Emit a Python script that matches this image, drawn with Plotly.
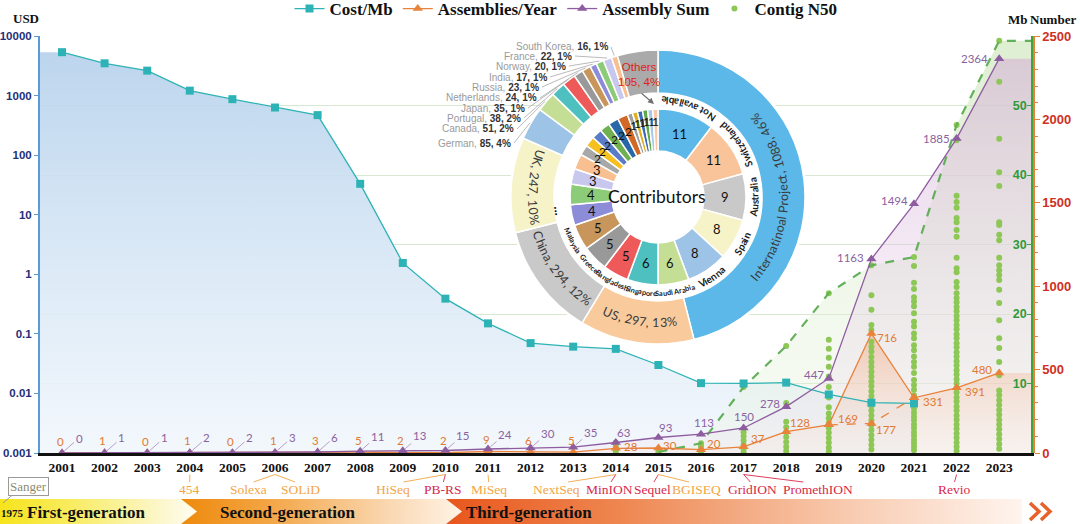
import math
import base64
import plotly.graph_objects as go

# ---------------------------------------------------------------- data
years = list(range(2001, 2024))
cost_years = list(range(2001, 2022))
cost_per_mb = [5350, 3480, 2620, 1210, 870, 630, 470, 33, 1.55, 0.39, 0.15,
               0.070, 0.061, 0.056, 0.030, 0.0149, 0.0147, 0.0152, 0.0096,
               0.0070, 0.0068]
assemblies_per_year = [0, 1, 0, 1, 0, 1, 3, 5, 2, 2, 9, 6, 5, 28, 30, 20, 37,
                       128, 169, 716, 331, 391, 480]
assembly_sum = [0, 1, 1, 2, 2, 3, 6, 11, 13, 15, 24, 30, 35, 63, 93, 113, 150,
                278, 447, 1163, 1494, 1885, 2364]
alt_years = [2019, 2020, 2021]
alt_assemblies = [169, 177, 331]

n50_max_years = list(range(2015, 2024))
n50_max = [0.15, 1.4, 9.5, 15.4, 23.0, 27.0, 28.2, 47.2, 59.3]

n50_2014 = [0.2, 0.6, 1.0, 1.5]
n50_2015 = [0.15]
n50_2016 = [0.2, 0.6, 1.0, 1.4]
n50_2017 = [0.1, 0.6, 1.2, 1.8, 2.4, 3.0, 9.5]
n50_2018 = [0.3, 0.9, 1.6, 2.3, 3.0, 3.7, 4.5, 7.2, 15.4]
n50_2019 = [0.2, 0.8, 1.5, 2.2, 2.9, 3.6, 4.3, 5.0, 5.7, 6.6, 8.0, 9.5, 11.0,
            12.4, 13.7, 15.0, 16.3, 23.0]
n50_2020 = [0.5, 1.2, 1.9, 2.6, 3.3, 4.0, 4.7, 5.4, 6.1, 6.8, 7.5, 8.2, 8.9,
            9.6, 10.3, 11.0, 11.7, 12.4, 13.1, 13.8, 14.6, 15.3, 16.0, 17.7,
            18.4, 20.6, 22.7, 27.0]
n50_2021 = [0.4, 0.9, 1.4, 1.9, 2.5, 3.0, 3.6, 4.1, 4.7, 5.2, 5.8, 6.4, 7.0,
            7.6, 8.3, 9.1, 9.8, 10.5, 11.5, 12.4, 13.1, 13.9, 14.8, 15.5, 16.5,
            17.2, 18.2, 18.9, 20.1, 21.1, 21.8, 22.4, 23.6, 24.5, 26.9, 28.2]
n50_2022 = [0.3, 0.9, 1.5, 2.2, 2.8, 3.5, 4.1, 4.8, 5.4, 6.1, 6.7, 7.4, 8.0,
            8.7, 9.3, 10.0, 10.6, 11.3, 11.9, 12.6, 13.2, 13.9, 14.5, 15.2,
            15.8, 16.5, 17.1, 17.8, 18.4, 19.1, 19.7, 20.4, 21.0, 21.7, 22.3,
            23.0, 23.9, 24.6, 26.0, 26.6, 28.1, 31.1, 32.1, 33.2, 33.8, 35.3,
            36.1, 37.0, 45.0, 47.2]
n50_2023 = [0.6, 1.3, 2.0, 2.7, 3.4, 4.1, 4.8, 5.5, 6.2, 6.9, 7.6, 8.3, 9.0,
            11.2, 13.1, 15.1, 16.5, 19.1, 21.6, 23.5, 24.9, 25.6, 26.3, 27.0,
            28.1, 30.6, 31.4, 32.8, 33.2, 38.4, 40.4, 45.2, 53.4, 59.3]
n50_by_year = {2014: n50_2014, 2015: n50_2015, 2016: n50_2016, 2017: n50_2017,
               2018: n50_2018, 2019: n50_2019, 2020: n50_2020, 2021: n50_2021,
               2022: n50_2022, 2023: n50_2023}

outer_labels = ["Internatinoal Project", "US", "China", "UK", "German", "Canada",
                "Portugal", "Japan", "Netherlands", "Russia", "India", "Norway",
                "France", "South Korea", "Others"]
outer_values = [1088, 297, 294, 247, 85, 51, 38, 35, 24, 23, 17, 20, 22, 16, 105]

inner_labels = ["Not available", "Switzerland", "Australia", "Spain", "Vienna",
                "Saudi Arabia", "Singapore", "Bangladesh", "Greece", "Malaysia",
                "Other 1", "Other 2", "Other 3", "Other 4", "Other 5", "Other 6",
                "Other 7", "Other 8", "Other 9", "Other 10", "Other 11",
                "Other 12", "Other 13", "Other 14", "Other 15", "Other 16"]
inner_values = [11, 11, 9, 8, 8, 6, 6, 5, 5, 5, 4, 4, 3, 3, 2, 2, 2, 2, 2, 2,
                1, 1, 1, 1, 1, 1]
inner_named = 10

platform_names = ["454", "Solexa", "SOLiD", "HiSeq", "PB-RS", "MiSeq", "NextSeq",
                  "MinION", "Sequel", "BGISEQ", "GridION", "PromethION", "Revio"]
platform_years = [2004, 2006, 2006, 2010, 2010, 2011, 2014, 2014, 2015, 2015,
                  2017, 2017, 2022]
platform_long_read = [False, False, False, False, True, False, False, True, True,
                      False, True, True, True]

# ---------------------------------------------------------------- layout constants
W, H = 1080, 524
ML, MR, MT, MB = 40, 46, 36, 71
PW, PH = W - ML - MR, H - MT - MB
X_PX0, X_STEP = 62.0, 42.6
X_END_PX = 1031.0
X_MIN = 2001 - (X_PX0 - ML) / X_STEP
X_MAX = 2001 + (X_END_PX - X_PX0) / X_STEP
X_DOM = (X_END_PX - ML) / PW


def fx(px):
    return (px - ML) / PW


def fy(py):
    return 1 - (py - MT) / PH


TEAL = "#2DB3B5"
ORANGE = "#E9823A"
PURPLE = "#8E5DA0"
GREEN_DOT = "#8DC756"
GREEN_DASH = "#63B05A"
ORANGE_TXT = "#E07A30"
PURPLE_TXT = "#8B62A0"
SERIF = "Liberation Serif"
SANS = "Liberation Sans"
CAL = "Lato"

outer_colors = ["#5BB8E8", "#F9CB9C", "#C9C9C9", "#F7F3C9", "#9DC3E6", "#C5DE95",
                "#4FC0C0", "#EE5A5A", "#999999", "#C8955A", "#8C8CD8", "#8CCB78",
                "#C8C8EE", "#F8C090", "#AAAAAA"]
inner_colors = ["#5BB8E8", "#F9C49A", "#C9C9C9", "#F7F3C9", "#9DC3E6", "#C5DE95",
                "#4FC0C0", "#EE5A5A", "#999999", "#C8955A", "#8C8CD8", "#8CCB78",
                "#C8C8EE", "#F8C090", "#A8A8A8", "#F5C020", "#5A7CC8", "#70B050",
                "#2868A8", "#D06828", "#A0A0A0", "#E0B020", "#3A6AB8", "#60A848",
                "#A8C8E8", "#F8C8A8"]

fig = go.Figure()

# ---------------------------------------------------------------- fills
fig.add_trace(go.Scatter(
    x=[X_MIN] + cost_years, y=[cost_per_mb[0]] + cost_per_mb, yaxis="y",
    mode="none", fill="tozeroy",
    fillgradient=dict(type="vertical", start=1e-3, stop=1e4,
                      colorscale=[[0, "rgba(242,247,252,0.92)"],
                                  [0.5, "rgba(214,230,245,0.92)"],
                                  [1, "rgba(180,208,235,0.92)"]]),
    showlegend=False, hoverinfo="skip"))
fig.add_trace(go.Scatter(
    x=n50_max_years + [X_MAX], y=n50_max + [n50_max[-1]], yaxis="y2",
    mode="none", fill="tozeroy",
    fillgradient=dict(type="vertical", colorscale=[[0, "rgba(236,245,228,0.35)"],
                                                   [1, "rgba(205,230,185,0.65)"]]),
    showlegend=False, hoverinfo="skip"))
fig.add_trace(go.Scatter(
    x=years + [X_MAX], y=assembly_sum + [assembly_sum[-1]], yaxis="y3",
    mode="none", fill="tozeroy",
    fillgradient=dict(type="vertical", colorscale=[[0, "rgba(240,225,240,0.25)"],
                                                   [1, "rgba(212,172,214,0.55)"]]),
    showlegend=False, hoverinfo="skip"))
fig.add_trace(go.Scatter(
    x=years + [X_MAX], y=assemblies_per_year + [assemblies_per_year[-1]], yaxis="y3",
    mode="none", fill="tozeroy",
    fillgradient=dict(type="vertical", colorscale=[[0, "rgba(250,228,215,0.2)"],
                                                   [1, "rgba(240,165,125,0.5)"]]),
    showlegend=False, hoverinfo="skip"))

# ---------------------------------------------------------------- N50
n50_x, n50_y = [], []
for yr, vals in n50_by_year.items():
    n50_x += [yr] * len(vals)
    n50_y += vals
fig.add_trace(go.Scatter(
    x=n50_x, y=n50_y, yaxis="y4", mode="markers", name="<b>Contig N50</b>",
    marker=dict(color=GREEN_DOT, size=6), legendrank=4))
fig.add_trace(go.Scatter(
    x=n50_max_years + [X_MAX], y=n50_max + [n50_max[-1]], yaxis="y4", mode="lines",
    line=dict(color=GREEN_DASH, width=2.2, dash="dash"), showlegend=False,
    hoverinfo="skip"))

# ---------------------------------------------------------------- cost line
fig.add_trace(go.Scatter(
    x=cost_years, y=cost_per_mb, yaxis="y5", mode="lines+markers",
    name="<b>Cost/Mb</b>", line=dict(color=TEAL, width=1.3),
    marker=dict(symbol="square", size=8, color=TEAL), legendrank=1))

# ---------------------------------------------------------------- assemblies
fig.add_trace(go.Scatter(
    x=alt_years, y=alt_assemblies, yaxis="y6", mode="lines+markers",
    line=dict(color=ORANGE, width=1.3, dash="dash"),
    marker=dict(symbol="triangle-up", size=9, color=ORANGE), showlegend=False))
fig.add_trace(go.Scatter(
    x=years, y=assemblies_per_year, yaxis="y6", mode="lines+markers",
    name="<b>Assemblies/Year</b>", line=dict(color=ORANGE, width=1.3),
    marker=dict(symbol="triangle-up", size=9, color=ORANGE), legendrank=2))
fig.add_trace(go.Scatter(
    x=years, y=assembly_sum, yaxis="y6", mode="lines+markers",
    name="<b>Assembly Sum</b>", line=dict(color=PURPLE, width=1.3),
    marker=dict(symbol="triangle-up", size=9, color=PURPLE), legendrank=3))

# ---------------------------------------------------------------- donut
CX, CY = 658.0, 197.0
R_OUT, R_OUT_HOLE = 147.0, 104.0
R_IN, R_IN_HOLE = 88.0, 46.0


def polar(r, deg):
    a = math.radians(deg)
    return CX + r * math.sin(a), CY - r * math.cos(a)


def pie_domain(r):
    return dict(x=[fx(CX - r), fx(CX + r)], y=[fy(CY + r), fy(CY - r)])


def slice_angles(values):
    tot = float(sum(values))
    out, c = [], 0.0
    for v in values:
        a0 = c / tot * 360
        c += v
        out.append((a0, c / tot * 360))
    return out


fig.add_trace(go.Pie(values=[1], labels=["bg"], domain=pie_domain(R_OUT + 2),
                     marker=dict(colors=["white"]), textinfo="none", hoverinfo="skip",
                     showlegend=False, sort=False))
fig.add_trace(go.Pie(values=outer_values, labels=outer_labels, domain=pie_domain(R_OUT),
                     hole=R_OUT_HOLE / R_OUT, sort=False, direction="clockwise",
                     rotation=0, textinfo="none", showlegend=False,
                     marker=dict(colors=outer_colors, line=dict(color="white", width=1.5))))
fig.add_trace(go.Pie(values=inner_values, labels=inner_labels, domain=pie_domain(R_IN),
                     hole=R_IN_HOLE / R_IN, sort=False, direction="clockwise",
                     rotation=0, textinfo="none", showlegend=False,
                     marker=dict(colors=inner_colors, line=dict(color="white", width=1.5))))

CHAR_EM = {'I': 0.28, 'U': 0.72, 'S': 0.55, 'C': 0.66, 'P': 0.60, 'K': 0.63,
           'N': 0.76, 'A': 0.68, 'V': 0.66, 'M': 0.88, 'B': 0.64, 'G': 0.72,
           'D': 0.74, 'O': 0.78, 'a': 0.50, 'b': 0.56, 'c': 0.46, 'd': 0.56,
           'e': 0.52, 'f': 0.32, 'g': 0.50, 'h': 0.56, 'i': 0.24, 'j': 0.24,
           'k': 0.50, 'l': 0.24, 'm': 0.84, 'n': 0.56, 'o': 0.56, 'p': 0.56,
           'q': 0.56, 'r': 0.36, 's': 0.43, 't': 0.35, 'u': 0.56, 'v': 0.51,
           'w': 0.78, 'x': 0.50, 'y': 0.51, 'z': 0.46, ',': 0.24, '.': 0.24,
           ' ': 0.26, '%': 0.82}


def char_em(c):
    if c.isdigit():
        return 0.58
    return CHAR_EM.get(c, 0.56)


annotations = []
shapes = []


def pann(px, py, text, **kw):
    d = dict(x=fx(px), y=fy(py), xref="paper", yref="paper", text=text,
             showarrow=False, xanchor="center", yanchor="middle")
    d.update(kw)
    annotations.append(d)


def curved_text(text, r, center_deg, size, color, weight="normal"):
    widths = [char_em(c) * size for c in text]
    total = sum(widths)
    start = center_deg + math.degrees(total / 2.0 / r)
    cum = 0.0
    for c, w in zip(text, widths):
        th = start - math.degrees((cum + w / 2.0) / r)
        cum += w
        if c == " ":
            continue
        px, py = polar(r, th)
        rot = ((th - 180) + 180) % 360 - 180
        pann(px, py, c, textangle=rot,
             font=dict(size=size, color=color, family=CAL, weight=weight))


outer_tot = sum(outer_values)
outer_ang = slice_angles(outer_values)
outer_center_override = {0: 90.0}
for i in range(4):
    v = outer_values[i]
    pct = round(v / outer_tot * 100)
    mid = outer_center_override.get(i, sum(outer_ang[i]) / 2)
    curved_text(f"{outer_labels[i]}, {v}, {pct}%", 125.5, mid, 12.5, "#3A3A3A")

small_label_pos = [(513, 143), (516, 129), (523, 118), (527, 108), (539, 98),
                   (541, 87), (549, 77), (568, 66), (574, 56), (610, 47)]
for k, i in enumerate(range(4, 14)):
    v = outer_values[i]
    pct = round(v / outer_tot * 100)
    lx, ly = small_label_pos[k]
    pann(lx, ly,
         f"<span style='color:#9a9a9a'>{outer_labels[i]}, </span><b>{v}, {pct}%</b>",
         xanchor="right", font=dict(size=10, color="#333333", family=SANS))
    ex, ey = polar(R_OUT + 1, sum(outer_ang[i]) / 2)
    shapes.append(dict(type="line", xref="paper", yref="paper",
                       x0=fx(lx + 1), y0=fy(ly), x1=fx(ex), y1=fy(ey),
                       line=dict(color="#A8A8A8", width=0.8)))

oi = len(outer_values) - 1
ox, oy = polar(124, sum(outer_ang[oi]) / 2)
pann(ox - 2, oy,
     f"{outer_labels[oi]}<br>{outer_values[oi]}, {round(outer_values[oi] / outer_tot * 100)}%",
     font=dict(size=11.5, color="#E0201B", family=SANS))
annotations.append(dict(x=fx(654), y=fy(104), xref="paper", yref="paper", text="",
                        showarrow=True, ax=-14, ay=-12, arrowhead=2, arrowsize=1,
                        arrowwidth=1.2, arrowcolor="#707070"))

inner_ang = slice_angles(inner_values)
for i, v in enumerate(inner_values):
    mid = sum(inner_ang[i]) / 2
    r = 67 if v >= 3 else (72 if v == 2 else 76)
    px, py = polar(r, mid)
    pann(px, py, str(v),
         font=dict(size=13 if v >= 3 else 12, color="#111111", family=CAL))
for i in range(inner_named):
    mid = sum(inner_ang[i]) / 2
    curved_text(inner_labels[i], 96.5, mid, 10 if i < 5 else 7.3, "#1A1A1A",
                weight="bold")
dx_, dy_ = polar(99, 262)
pann(dx_, dy_, "<b>...</b>", textangle=82,
     font=dict(size=13, color="#111111", family=CAL))
pann(657, 196, "Contributors", font=dict(size=17.5, color="#111111", family=CAL))

# ---------------------------------------------------------------- data labels
late_purple_off = {2014: (8, -10), 2015: (8, -10), 2016: (3, -12), 2017: (0, -11),
                   2018: (-16, -3), 2019: (-15, -4), 2020: (-21, -2),
                   2021: (-20, -3), 2022: (-20, 0), 2023: (-25, 0)}
late_orange_off = {2014: (15, -2), 2015: (12, -3), 2016: (13, -6), 2017: (14, -8),
                   2018: (14, -9), 2019: (19, -6), 2020: (16, 4), 2021: (19, 4),
                   2022: (18, 4), 2023: (-17, -3)}
lab_font = dict(size=11.5, family=CAL)
for i, yr in enumerate(years):
    a, s = assemblies_per_year[i], assembly_sum[i]
    if yr in late_purple_off:
        dxp, dyp = late_purple_off[yr]
        dxo, dyo = late_orange_off[yr]
        annotations.append(dict(x=yr, y=s, xref="x", yref="y3", text=str(s),
                                showarrow=False, xshift=dxp, yshift=-dyp,
                                xanchor="center", yanchor="middle",
                                font=dict(color=PURPLE_TXT, **lab_font)))
        annotations.append(dict(x=yr, y=a, xref="x", yref="y3", text=str(a),
                                showarrow=False, xshift=dxo, yshift=-dyo,
                                xanchor="center", yanchor="middle",
                                font=dict(color=ORANGE_TXT, **lab_font)))
    else:
        annotations.append(dict(x=yr, y=a, xref="x", yref="y3", text=str(a),
                                showarrow=False, xshift=-2, yshift=12,
                                xanchor="center", yanchor="middle",
                                font=dict(color=ORANGE_TXT, **lab_font)))
        annotations.append(dict(x=yr, y=s, xref="x", yref="y3", text=str(s),
                                showarrow=True, arrowhead=0, arrowwidth=0.8,
                                arrowcolor="#A888B8", ax=17, ay=-15, standoff=3,
                                font=dict(color=PURPLE_TXT, **lab_font)))
annotations.append(dict(x=alt_years[1], y=alt_assemblies[1], xref="x", yref="y3",
                        text=str(alt_assemblies[1]), showarrow=False, xshift=15,
                        yshift=-6, xanchor="center", yanchor="middle",
                        font=dict(color=ORANGE_TXT, **lab_font)))

# ---------------------------------------------------------------- headers
hdr = dict(size=13, color="#111111", family=SERIF, weight="bold")
pann(26, 18, "USD", font=hdr)
pann(1030, 19, "Mb", xanchor="right", font=hdr)
pann(1078, 19, "Number", xanchor="right", font=hdr)

# ---------------------------------------------------------------- platforms
platform_offset = [0, -0.63, 0.59, -1.23, -0.06, 0.02, -1.4, -0.14, -0.13, 0.9,
                   0.2, 1.75, -0.06]
for name, yr, lr, off in zip(platform_names, platform_years, platform_long_read,
                             platform_offset):
    col = "#D8284A" if lr else "#F2A545"
    annotations.append(dict(x=yr + off, y=fy(490), xref="x", yref="paper",
                            text=name, showarrow=False, xanchor="center",
                            yanchor="middle",
                            font=dict(size=13.5, color=col, family=SERIF)))
    shapes.append(dict(type="line", xref="x", yref="paper", x0=yr, y0=fy(474.5),
                       x1=yr + off * 0.8, y1=fy(482),
                       line=dict(color=col, width=0.9)))

# ---------------------------------------------------------------- generation band
band_svg = """<svg xmlns="http://www.w3.org/2000/svg" width="1080" height="25" viewBox="0 0 1080 25" preserveAspectRatio="none">
<defs>
<linearGradient id="g1" x1="0" x2="1" y1="0" y2="0">
<stop offset="0" stop-color="#F6E41C"/><stop offset="0.35" stop-color="#F8EC5E"/>
<stop offset="0.8" stop-color="#FCF6C8"/><stop offset="1" stop-color="#FFFDF2"/></linearGradient>
<linearGradient id="g2" x1="0" x2="1" y1="0" y2="0">
<stop offset="0" stop-color="#EE8A0C"/><stop offset="0.3" stop-color="#F3A443"/>
<stop offset="0.75" stop-color="#FAD9B4"/><stop offset="1" stop-color="#FFF3E6"/></linearGradient>
<linearGradient id="g3" x1="0" x2="1" y1="0" y2="0">
<stop offset="0" stop-color="#E8561C"/><stop offset="0.3" stop-color="#EE8650"/>
<stop offset="0.7" stop-color="#F8CBB0"/><stop offset="1" stop-color="#FFF4EE"/></linearGradient>
</defs>
<polygon points="0,0 181,0 197,12.5 181,25 0,25" fill="url(#g1)"/>
<polygon points="181,0 446,0 462,12.5 446,25 181,25 197,12.5" fill="url(#g2)"/>
<polygon points="446,0 1022,0 1022,25 446,25 462,12.5" fill="url(#g3)"/>
<polyline points="1030,4 1039,12.5 1030,21" fill="none" stroke="#E8602A" stroke-width="3.5"/>
<polyline points="1041,4 1050,12.5 1041,21" fill="none" stroke="#E8602A" stroke-width="3.5"/>
</svg>"""
images = [dict(source="data:image/svg+xml;base64," + base64.b64encode(band_svg.encode()).decode(),
               xref="paper", yref="paper", x=fx(0), y=fy(499), sizex=W / PW,
               sizey=25 / PH, xanchor="left", yanchor="top", sizing="stretch",
               layer="above")]
band_font = dict(color="#111111", family=SERIF, weight="bold")
pann(12, 513, "1975", font=dict(size=11, **band_font))
pann(86, 512.5, "First-generation", font=dict(size=17, **band_font))
pann(288, 512.5, "Second-generation", font=dict(size=17, **band_font))
pann(529, 512.5, "Third-generation", font=dict(size=17, **band_font))
pann(28, 486, "Sanger", bordercolor="#9A9A9A", borderwidth=1, borderpad=1,
     bgcolor="white", font=dict(size=13, color="#8C8C70", family=SERIF))
shapes.append(dict(type="line", xref="paper", yref="paper", x0=fx(13), y0=fy(494.5),
                   x1=fx(3), y1=fy(503), line=dict(color="#9A9A9A", width=1)))

# ---------------------------------------------------------------- layout
fig.update_layout(
    width=W, height=H,
    margin=dict(l=ML, r=MR, t=MT, b=MB, autoexpand=False),
    paper_bgcolor="white", plot_bgcolor="white",
    font=dict(family=CAL, color="#111111"),
    showlegend=True,
    legend=dict(orientation="h", x=fx(566), xanchor="center", y=fy(9),
                yanchor="middle", font=dict(family=SERIF, size=17, color="#111111"),
                bgcolor="rgba(0,0,0,0)", itemwidth=30),
    xaxis=dict(domain=[0, X_DOM], range=[X_MIN, X_MAX], tickmode="array",
               tickvals=years, ticktext=[str(y) for y in years],
               tickfont=dict(family=SERIF, size=13.5, color="#111111", weight="bold"),
               showline=True, linecolor="#111111", linewidth=3, ticks="",
               showgrid=False, zeroline=False, layer="below traces",
               ticklabelstandoff=0),
    yaxis=dict(type="log", range=[-3, 4], tickmode="array",
               tickvals=[0.001, 0.01, 0.1, 1, 10, 100, 1000, 10000],
               ticktext=["0.001", "0.01", "0.1", "1", "10", "100", "1000", "10000"],
               tickfont=dict(family=SANS, size=11.5, color="#1F2F7A", weight="bold"),
               showline=True, linecolor="#5B9BD5", linewidth=2, ticks="outside",
               ticklen=4, tickcolor="#5B9BD5", showgrid=False, zeroline=False),
    yaxis2=dict(overlaying="y", side="right", anchor="x", range=[0, 60],
                tickmode="array", tickvals=[10, 20, 30, 40, 50, 60],
                tickfont=dict(family=SANS, size=12.5, color="#2E9A3C", weight="bold"),
                ticklabelposition="inside", ticks="inside", ticklen=4,
                tickcolor="#3DA33D", showline=True, linecolor="#3DA33D",
                linewidth=2.5, showgrid=True, gridcolor="#D8E7D0", gridwidth=1,
                zeroline=False),
    yaxis3=dict(overlaying="y", side="right", anchor="free", position=1.0,
                range=[0, 2500], tickmode="linear", tick0=0, dtick=500,
                tickfont=dict(family=SANS, size=13, color="#D0301E", weight="bold"),
                ticks="outside", ticklen=5, tickcolor="#E8813A",
                minor=dict(dtick=100, ticks="outside", ticklen=3,
                           tickcolor="#E8813A", showgrid=False),
                showline=True, linecolor="#E8813A", linewidth=1.5, showgrid=False,
                zeroline=False),
    yaxis4=dict(overlaying="y", range=[0, 60], visible=False),
    yaxis5=dict(overlaying="y", type="log", range=[-3, 4], visible=False),
    yaxis6=dict(overlaying="y", range=[0, 2500], visible=False),
    annotations=annotations,
    shapes=shapes,
    images=images,
)

fig.write_html("out.html", config={"displayModeBar": False},
               post_script="document.body.style.margin='0';document.body.style.padding='0';")
